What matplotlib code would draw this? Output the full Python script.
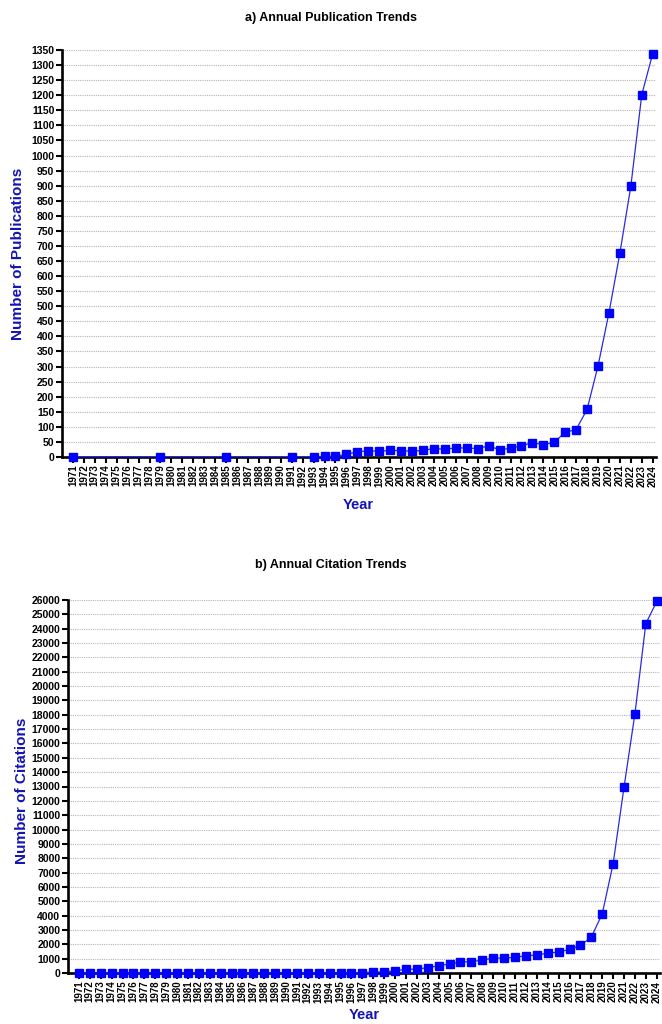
import matplotlib
matplotlib.use("Agg")
import matplotlib.pyplot as plt
from matplotlib.ticker import MultipleLocator

plt.rcParams['font.family'] = ['Liberation Sans', 'DejaVu Sans']

# ---- data ----
pub_years = [1971, 1979, 1985, 1991, 1993, 1994, 1995, 1996, 1997, 1998, 1999,
             2000, 2001, 2002, 2003, 2004, 2005, 2006, 2007, 2008, 2009, 2010,
             2011, 2012, 2013, 2014, 2015, 2016, 2017, 2018, 2019, 2020, 2021,
             2022, 2023, 2024]
pub_counts = [1, 1, 1, 1, 1, 2, 2, 9, 17, 21, 19,
              22, 21, 19, 22, 28, 26, 30, 30, 28, 37, 24,
              29, 37, 48, 41, 49, 82, 91, 158, 302, 478, 677,
              898, 1202, 1338]

cit_years = list(range(1971, 2025))
cit_counts = [0, 0, 0, 0, 0, 0, 0, 0, 0, 0,
              0, 0, 0, 0, 0, 0, 0, 0, 0, 0,
              0, 0, 0, 0, 0, 0, 20, 70, 70,
              160, 250, 280, 370, 510, 625, 765, 790, 900, 1040, 1040,
              1090, 1200, 1250, 1390, 1460, 1640, 1920, 2500, 4120, 7615,
              12950, 18070, 24350, 25900]

all_years = list(range(1971, 2025))

titles = ["a) Annual Publication Trends", "b) Annual Citation Trends"]
ylabels = ["Number of Publications", "Number of Citations"]
xlabel = "Year"

LABEL_BLUE = '#1414b4'
MARK_BLUE = '#0000ff'

fig = plt.figure(figsize=(6.62, 10.24), dpi=100)
W, H = 662.0, 1024.0

def make_ax(left, right, top, bottom):
    return fig.add_axes([left / W, 1 - bottom / H, (right - left) / W, (bottom - top) / H])

ax1 = make_ax(62, 656, 50, 457)
ax2 = make_ax(68, 660, 600, 973)

configs = [
    (ax1, pub_years, pub_counts, 1350, 50),
    (ax2, cit_years, cit_counts, 26000, 1000),
]

for i, (ax, xs, ys, ymax, step) in enumerate(configs):
    ax.plot(xs, ys, color='#2a2ae0', lw=0.9, marker='s', markersize=5.8,
            markerfacecolor=MARK_BLUE, markeredgecolor=MARK_BLUE, clip_on=False, zorder=4)
    ax.set_xlim(1970, 2024.3)
    ax.set_ylim(0, ymax)
    ax.yaxis.set_major_locator(MultipleLocator(step))
    ax.set_xticks(all_years)
    ax.set_xticklabels([str(y) for y in all_years], rotation=90, fontsize=7,
                       fontweight='bold')
    for lab in ax.get_yticklabels():
        lab.set_fontweight('bold')
        lab.set_fontsize(7.5)
    ax.grid(axis='y', color='#b4b4b4', linestyle=(0, (1, 1)), linewidth=0.8, zorder=0)
    ax.set_axisbelow(True)
    for s in ['top', 'right']:
        ax.spines[s].set_visible(False)
    for s in ['left', 'bottom']:
        ax.spines[s].set_linewidth(1.9)
        ax.spines[s].set_color('black')
    ax.tick_params(axis='both', direction='out', length=4, width=1.5, pad=1.5,
                   colors='black')
    ax.tick_params(axis='y', labelsize=7.5)

# titles
fig.text(331 / W, 1 - 18 / H, titles[0], ha='center', va='center',
         fontsize=9, fontweight='bold')
fig.text(331 / W, 1 - 565 / H, titles[1], ha='center', va='center',
         fontsize=9, fontweight='bold')

# y labels
fig.text(18 / W, 1 - 254 / H, ylabels[0], rotation=90, ha='center', va='center',
         fontsize=11, fontweight='bold', color=LABEL_BLUE)
fig.text(22 / W, 1 - 791 / H, ylabels[1], rotation=90, ha='center', va='center',
         fontsize=11, fontweight='bold', color=LABEL_BLUE)

# x labels
fig.text(358 / W, 1 - 505 / H, xlabel, ha='center', va='center',
         fontsize=10.5, fontweight='bold', color=LABEL_BLUE)
fig.text(364 / W, 1 - 1015 / H, xlabel, ha='center', va='center',
         fontsize=10.5, fontweight='bold', color=LABEL_BLUE)

fig.savefig('out.png', dpi=100)
